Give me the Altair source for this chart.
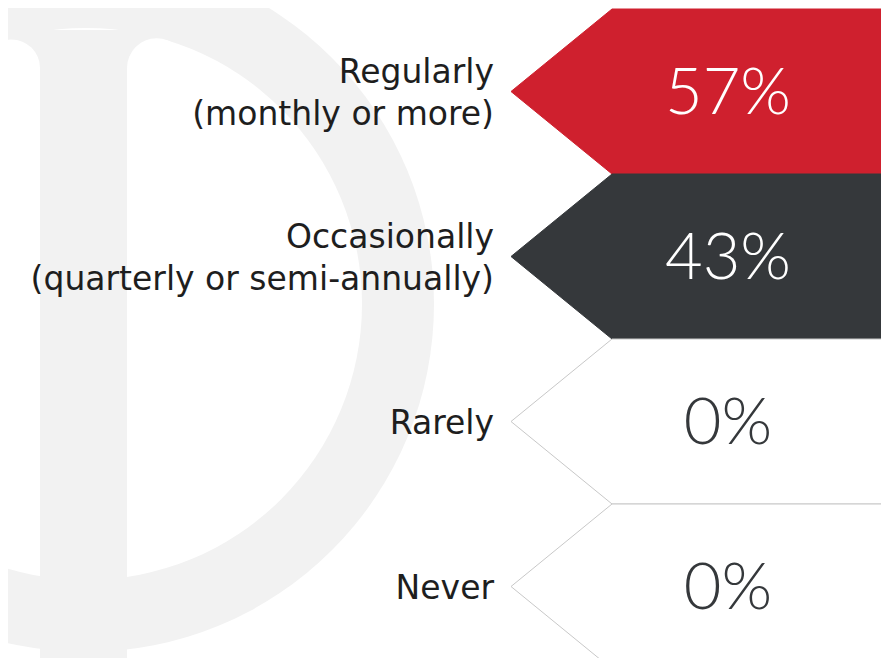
import altair as alt
import pandas as pd

# ---- data ----
labels = ["Regularly\n(monthly or more)",
          "Occasionally\n(quarterly or semi-annually)",
          "Rarely",
          "Never"]
values = [57, 43, 0, 0]

# ---- styles ----
FILLS = ["#cf202e", "#35383b", "#ffffff", "#ffffff"]
STROKES = ["#cf202e", "#35383b", "#c8c8c8", "#c8c8c8"]
PCT_COLORS = ["#ffffff", "#ffffff", "#35383b", "#35383b"]
LOGO = "#f2f2f2"

W, H = 873, 650
ROW_PX = 165.0
LINE_H = 42

df = pd.DataFrame({"label": labels, "value": values, "idx": list(range(len(labels)))})

yscale = alt.Scale(domain=[-0.5, 3.5], range=[1, 661], nice=False, zero=False)

# chevron (pentagon) symbol: tip at left, box to the right
CHEV = "M-1,0 L-0.47396,-0.42969 L1,-0.42969 L1,0.42969 L-0.47396,0.42969 Z"
CHEV_SIZE = 384 ** 2

base = alt.Chart(df)

chevrons = base.mark_point(shape=CHEV, size=CHEV_SIZE, filled=True, opacity=1,
                           strokeWidth=1, fillOpacity=1).encode(
    x=alt.value(695),
    y=alt.Y("idx:Q", scale=yscale, axis=None),
    fill=alt.Fill("label:N", scale=alt.Scale(domain=labels, range=FILLS), legend=None),
    stroke=alt.Stroke("label:N", scale=alt.Scale(domain=labels, range=STROKES), legend=None),
)

label_text = base.transform_calculate(
    ty=f"datum.idx - (split(datum.label, '\\n').length - 1) * {LINE_H / 2 / ROW_PX}"
).mark_text(align="right", baseline="middle", font="DejaVu Sans",
            fontSize=33, lineHeight=LINE_H, lineBreak="\n", dy=2,
            color="#1e1e1e").encode(
    x=alt.value(486),
    y=alt.Y("ty:Q", scale=yscale, axis=None),
    text="label:N",
)

pct_text = base.transform_calculate(pct="datum.value + '%'").mark_text(
    align="center", baseline="middle", font="Lato", fontWeight=300, fontSize=65, dy=2).encode(
    x=alt.value(720),
    y=alt.Y("idx:Q", scale=yscale, axis=None),
    text="pct:N",
    color=alt.Color("label:N", scale=alt.Scale(domain=labels, range=PCT_COLORS), legend=None),
)

# ---- background logo (decoration) ----
one = alt.Chart(pd.DataFrame({"a": [0]}))
ring_outer = one.mark_point(shape="circle", filled=True, opacity=1, size=696 ** 2,
                            color=LOGO).encode(x=alt.value(78), y=alt.value(296))
ring_inner = one.mark_point(shape="circle", filled=True, opacity=1, size=552 ** 2,
                            color="#ffffff").encode(x=alt.value(78), y=alt.value(296))
cap = one.mark_rect(color=LOGO).encode(x=alt.value(-6), x2=alt.value(158),
                                       y=alt.value(22), y2=alt.value(60))
fillet_l = one.mark_point(shape="circle", filled=True, opacity=1, size=57 ** 2,
                          color="#ffffff").encode(x=alt.value(3.5), y=alt.value(60))
fillet_r = one.mark_point(shape="circle", filled=True, opacity=1, size=59.3 ** 2,
                          color="#ffffff").encode(x=alt.value(148.6), y=alt.value(60))
bar = one.mark_rect(color=LOGO).encode(x=alt.value(32), x2=alt.value(119),
                                       y=alt.value(30), y2=alt.value(680))

chart = alt.layer(
    ring_outer, ring_inner, cap, fillet_l, fillet_r, bar,
    chevrons, label_text, pct_text
).resolve_scale(fill="independent", stroke="independent", color="independent").properties(
    width=W, height=H, autosize="none", padding=0, background="#ffffff"
).configure_view(stroke=None)

chart.save("out.html", embed_options={"renderer": "svg", "actions": False})
